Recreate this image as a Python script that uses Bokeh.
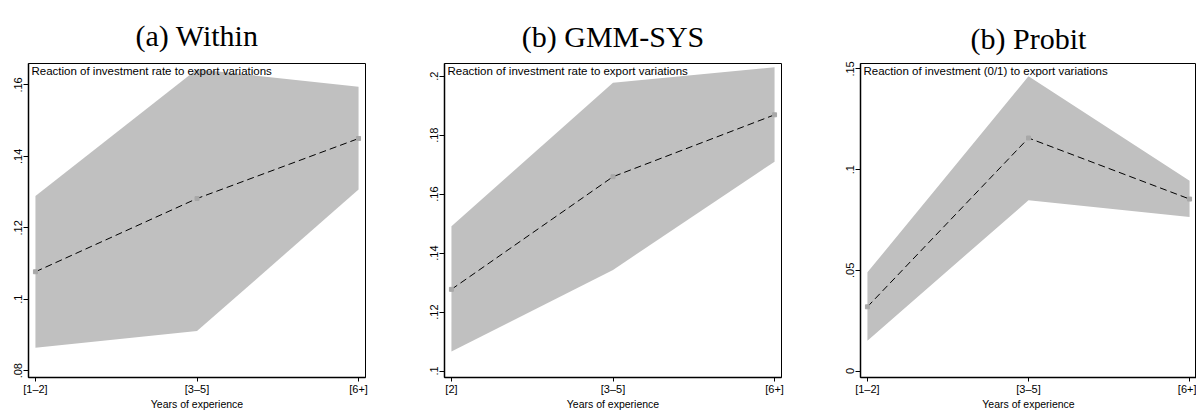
from bokeh.plotting import figure
from bokeh.layouts import row
from bokeh.models import Range1d, FixedTicker, Label
from bokeh.embed import file_html
from bokeh.resources import INLINE

# ---------------- data ----------------
x_pos = [1, 2, 3]
cats_a = ["[1–2]", "[3–5]", "[6+]"]
cats_b = ["[2]", "[3–5]", "[6+]"]

within_est = [0.1077, 0.1282, 0.1450]
within_lo = [0.0864, 0.0911, 0.1307]
within_hi = [0.1289, 0.1644, 0.1595]

gmm_est = [0.1277, 0.1659, 0.1869]
gmm_lo = [0.1066, 0.1343, 0.1710]
gmm_hi = [0.1491, 0.1978, 0.2030]

probit_est = [0.0319, 0.1157, 0.0854]
probit_lo = [0.0151, 0.0848, 0.0765]
probit_hi = [0.0490, 0.1464, 0.0945]

within_yticks = [0.08, 0.10, 0.12, 0.14, 0.16]
within_ylabels = [".08", ".1", ".12", ".14", ".16"]
gmm_yticks = [0.10, 0.12, 0.14, 0.16, 0.18, 0.20]
gmm_ylabels = [".1", ".12", ".14", ".16", ".18", ".2"]
probit_yticks = [0.0, 0.05, 0.10, 0.15]
probit_ylabels = ["0", ".05", ".1", ".15"]

titles = ["(a) Within", "(b) GMM-SYS", "(b) Probit"]
notes = ["Reaction of investment rate to export variations",
         "Reaction of investment rate to export variations",
         "Reaction of investment (0/1) to export variations"]
xlabel = "Years of experience"

SANS = "Liberation Sans"
SERIF = "Liberation Serif"


def panel(title, note, est, lo, hi, cats, yticks, ylabels, yr, xr, width,
          top, right, standoff):
    p = figure(width=width, height=412, output_backend="svg",
               toolbar_location=None, x_range=Range1d(*xr),
               y_range=Range1d(*yr), min_border_left=28,
               min_border_right=right, min_border_top=top,
               min_border_bottom=0)
    p.title.text = title
    p.title.align = "center"
    p.title.vertical_align = "top"
    p.title.standoff = standoff
    p.title.text_font = SERIF
    p.title.text_font_size = "30px"
    p.title.text_font_style = "normal"
    p.title.text_color = "black"

    p.background_fill_color = "white"
    p.border_fill_color = "white"
    p.outline_line_color = "black"
    p.outline_line_width = 1
    p.xgrid.visible = False
    p.ygrid.visible = False

    p.varea(x=x_pos, y1=lo, y2=hi, fill_color="#c0c0c0", fill_alpha=1.0)
    p.line(x=x_pos, y=est, line_color="black", line_width=1,
           line_dash="7 4")
    p.scatter(x=x_pos, y=est, marker="square", size=4,
              fill_color="#a8a8a8", line_color="#a8a8a8")

    p.add_layout(Label(x=xr[0], y=yr[1], text=note, x_offset=3,
                       y_offset=-1, text_baseline="top", text_align="left",
                       text_font=SANS, text_font_size="11.5px",
                       text_color="black"))

    xa = p.xaxis[0]
    xa.ticker = FixedTicker(ticks=x_pos)
    xa.major_label_overrides = {x: c for x, c in zip(x_pos, cats)}
    xa.minor_tick_line_color = None
    xa.major_tick_out = 4
    xa.major_tick_in = 0
    xa.major_label_standoff = 1
    xa.major_label_text_font = SANS
    xa.major_label_text_font_size = "11px"
    xa.major_label_text_color = "black"
    xa.axis_line_width = 1.5
    xa.axis_label = xlabel
    xa.axis_label_text_font = SANS
    xa.axis_label_text_font_size = "10.5px"
    xa.axis_label_text_font_style = "normal"
    xa.axis_label_text_color = "black"
    xa.axis_label_standoff = 0

    ya = p.yaxis[0]
    ya.ticker = FixedTicker(ticks=yticks)
    ya.major_label_overrides = {t: l for t, l in zip(yticks, ylabels)}
    ya.minor_tick_line_color = None
    ya.major_tick_out = 5
    ya.major_tick_in = 0
    ya.major_label_standoff = 1
    ya.major_label_orientation = "vertical"
    ya.major_label_text_font = SANS
    ya.major_label_text_font_size = "11px"
    ya.major_label_text_color = "black"
    ya.axis_line_width = 1.5
    return p


xr_full = (0.957, 3.043)
p1 = panel(titles[0], notes[0], within_est, within_lo, within_hi, cats_a,
           within_yticks, within_ylabels, (0.0781, 0.1660), xr_full,
           416, 63, 51, 20)
p2 = panel(titles[1], notes[1], gmm_est, gmm_lo, gmm_hi, cats_b,
           gmm_yticks, gmm_ylabels, (0.0978, 0.2043), xr_full,
           416, 62, 51, 18)
p3 = panel(titles[2], notes[2], probit_est, probit_lo, probit_hi, cats_a,
           probit_yticks, probit_ylabels, (-0.0032, 0.1527), xr_full,
           364, 60, 0, 14)

layout = row(p1, p2, p3)
open("out.html", "w").write(file_html(layout, INLINE))
